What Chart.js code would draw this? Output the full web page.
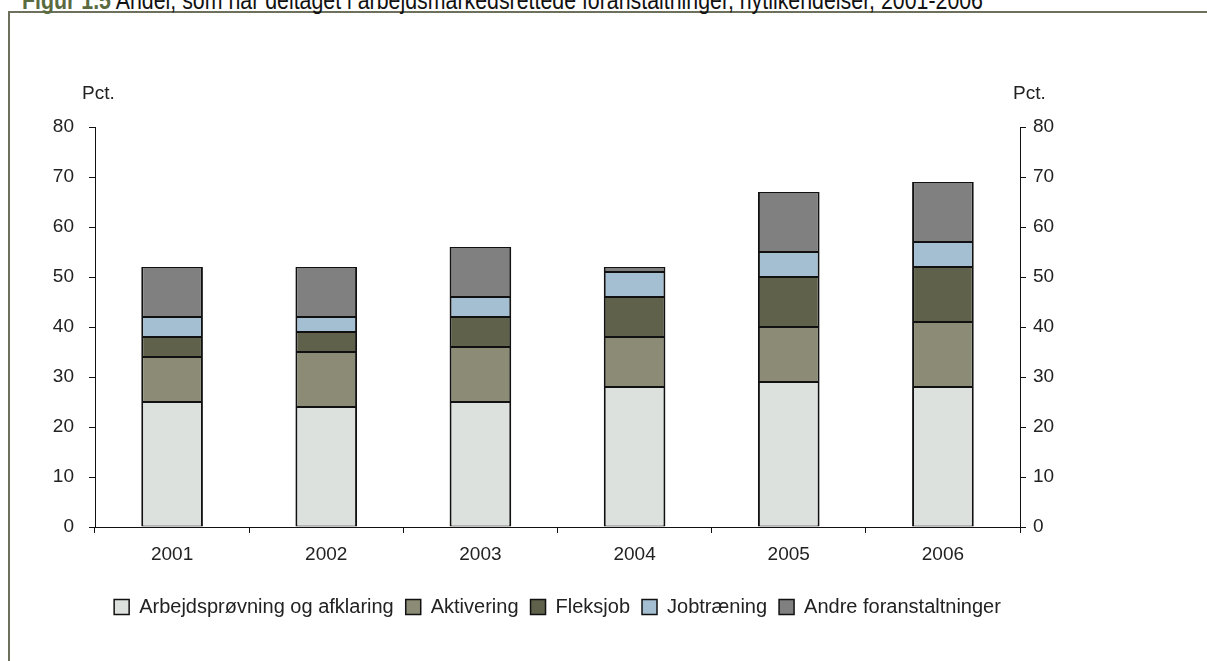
<!DOCTYPE html>
<html>
<head>
<meta charset="utf-8">
<script src="https://cdn.jsdelivr.net/npm/chart.js@4.4.1/dist/chart.umd.min.js"></script>
<style>
html,body{margin:0;padding:0;background:#fff;}
#wrap{position:relative;width:1207px;height:661px;overflow:hidden;background:#fff;}
#frame{position:absolute;left:8px;top:11px;right:-5px;bottom:-5px;border-top:2px solid #6d705c;border-left:2px solid #6d705c;}
#title{position:absolute;left:22px;top:-12px;font-family:"Liberation Sans",Arial,sans-serif;font-size:25px;line-height:1;white-space:nowrap;color:#111;transform-origin:0 0;}
#title b{color:#5a6b3f;}
#c{position:absolute;left:0;top:0;}
</style>
</head>
<body>
<div id="wrap">
  <div id="frame"></div>
  <div id="title"><b>Figur 1.5</b> Andel, som har deltaget i arbejdsmarkedsrettede foranstaltninger, nytilkendelser, 2001-2006</div>
  <canvas id="c" width="1207" height="661"></canvas>
</div>
<script>
const categories = ['2001', '2002', '2003', '2004', '2005', '2006'];
const arbejdsproevning = [25, 24, 25, 28, 29, 28];
const aktivering = [9, 11, 11, 10, 11, 13];
const fleksjob = [4, 4, 6, 8, 10, 11];
const jobtraening = [4, 3, 4, 5, 5, 5];
const andre = [10, 10, 10, 1, 12, 12];
const seriesNames = ['Arbejdsprøvning og afklaring', 'Aktivering', 'Fleksjob', 'Jobtræning', 'Andre foranstaltninger'];
const seriesColors = ['#dce1de', '#8c8c76', '#5f614b', '#a5bfd2', '#808080'];
const yMin = 0, yMax = 80, yStep = 10;
const unitLabel = 'Pct.';

const FONT = '"Liberation Sans", Arial, sans-serif';
const TXT = '#222';

// fit the condensed-looking title to its width in the reference
(function () {
  const t = document.getElementById('title');
  const w = t.getBoundingClientRect().width;
  t.style.transform = 'scaleX(' + (961 / w) + ')';
})();

const seriesData = [arbejdsproevning, aktivering, fleksjob, jobtraening, andre];
const datasets = seriesData.map((d, i) => ({
  label: seriesNames[i],
  data: d,
  backgroundColor: seriesColors[i],
  borderColor: '#111',
  borderWidth: {top: 1, bottom: 1, left: 2, right: 2},
  borderSkipped: false,
  barPercentage: 0.40,
  categoryPercentage: 1.0,
  yAxisID: 'y'
}));

const pctPlugin = {
  id: 'pct',
  afterDraw(chart) {
    const ctx = chart.ctx, a = chart.chartArea;
    ctx.save();
    ctx.font = '19px ' + FONT;
    ctx.fillStyle = TXT;
    ctx.textBaseline = 'middle';
    ctx.textAlign = 'left';
    ctx.fillText(unitLabel, a.left - 13, a.top - 33);
    ctx.fillText(unitLabel, a.right - 7, a.top - 33);
    ctx.restore();
  }
};

const yCommon = {
  min: yMin, max: yMax,
  ticks: {stepSize: yStep, color: TXT, font: {family: FONT, size: 19}},
  grid: {drawOnChartArea: false, drawTicks: true, tickLength: 6, color: '#111'},
  border: {display: true, color: '#111', width: 1}
};

new Chart(document.getElementById('c'), {
  type: 'bar',
  data: {labels: categories, datasets},
  options: {
    responsive: false,
    animation: false,
    maintainAspectRatio: false,
    layout: {padding: {left: 0, right: 0, top: 127, bottom: 34}},
    plugins: {
      legend: {
        position: 'bottom',
        fullSize: false,
        labels: {
          boxWidth: 15, boxHeight: 15, padding: 12,
          color: TXT, font: {family: FONT, size: 20}
        }
      },
      tooltip: {enabled: false},
      title: {display: false}
    },
    scales: {
      x: {
        stacked: true,
        ticks: {color: TXT, font: {family: FONT, size: 19}, padding: 10},
        grid: {offset: true, drawOnChartArea: false, drawTicks: true, tickLength: 6, color: '#111'},
        border: {display: true, color: '#111', width: 1},
        afterFit(s) { s.height = 58; }
      },
      y: Object.assign({}, yCommon, {
        stacked: true, position: 'left',
        ticks: Object.assign({}, yCommon.ticks, {padding: 15}),
        afterFit(s) { s.width = 95; }
      }),
      y2: Object.assign({}, yCommon, {
        position: 'right',
        ticks: Object.assign({}, yCommon.ticks, {padding: 7}),
        afterFit(s) { s.width = 187; }
      })
    }
  },
  plugins: [pctPlugin]
});
</script>
</body>
</html>
